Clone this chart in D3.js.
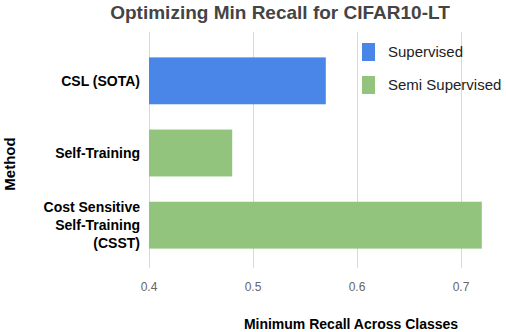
<!DOCTYPE html>
<html>
<head>
<meta charset="utf-8">
<script src="https://cdn.jsdelivr.net/npm/d3@7"></script>
<style>
  body { margin: 0; background: #fff; }
  text { font-family: "Liberation Sans", Arial, sans-serif; }
</style>
</head>
<body>
<div id="chart"></div>
<script>
// data
var methods = ["CSL (SOTA)", "Self-Training", "Cost Sensitive\nSelf-Training\n(CSST)"];
var minRecall = [0.57, 0.48, 0.72];
var groups = ["Supervised", "Semi Supervised", "Semi Supervised"];
var legendLabels = ["Supervised", "Semi Supervised"];
var xTicks = [0.4, 0.5, 0.6, 0.7];

var svgWidth = 506, svgHeight = 332;
var color = d3.scaleOrdinal().domain(legendLabels).range(["#4a86e8", "#93c47d"]);

var svg = d3.select("#chart")
    .append("svg")
    .attr("width", svgWidth)
    .attr("height", svgHeight);

var x = d3.scaleLinear()
    .domain([0.4, 0.7])
    .range([149, 461]);

var y = d3.scaleBand()
    .domain(methods)
    .range([35, 271])
    .paddingInner(0.35)
    .paddingOuter(0.31);

// gridlines
svg.append("g")
    .selectAll("line")
    .data(xTicks)
    .enter()
    .append("line")
    .attr("x1", d => x(d) + 0.5)
    .attr("x2", d => x(d) + 0.5)
    .attr("y1", 32)
    .attr("y2", 268)
    .attr("stroke", "#d9d9d9")
    .attr("stroke-width", 1);

// tick labels
svg.append("g")
    .selectAll("text")
    .data(xTicks)
    .enter()
    .append("text")
    .attr("x", d => x(d))
    .attr("y", 291)
    .attr("text-anchor", "middle")
    .attr("font-size", 12)
    .attr("fill", "#666")
    .text(d => d3.format(".1f")(d));

// bars
svg.append("g")
    .selectAll("rect")
    .data(methods)
    .enter()
    .append("rect")
    .attr("x", x(0.4))
    .attr("y", d => y(d))
    .attr("width", (d, i) => x(minRecall[i]) - x(0.4))
    .attr("height", y.bandwidth())
    .attr("fill", (d, i) => color(groups[i]));

// category labels
var labels = svg.append("g")
    .selectAll("text")
    .data(methods)
    .enter()
    .append("text")
    .attr("text-anchor", "end")
    .attr("font-size", 14)
    .attr("font-weight", "bold")
    .attr("fill", "#000");

labels.each(function (d) {
    var lines = d.split("\n");
    var cy = y(d) + y.bandwidth() / 2;
    var lh = 18;
    var t = d3.select(this);
    lines.forEach(function (ln, k) {
        t.append("tspan")
            .attr("x", 140)
            .attr("y", cy + (k - (lines.length - 1) / 2) * lh + 5)
            .text(ln);
    });
});

// legend
var legend = svg.append("g")
    .selectAll("g")
    .data(legendLabels)
    .enter()
    .append("g")
    .attr("transform", (d, i) => `translate(362, ${43 + i * 33})`);

legend.append("rect")
    .attr("width", 13)
    .attr("height", 18)
    .attr("fill", d => color(d));

legend.append("text")
    .attr("x", 26)
    .attr("y", 14)
    .attr("font-size", 15)
    .attr("fill", "#222")
    .text(d => d);

// title
svg.append("text")
    .attr("x", 280)
    .attr("y", 19)
    .attr("text-anchor", "middle")
    .attr("font-size", 19)
    .attr("font-weight", "bold")
    .attr("fill", "#444")
    .text("Optimizing Min Recall for CIFAR10-LT");

// axis titles
svg.append("text")
    .attr("x", 351)
    .attr("y", 329)
    .attr("text-anchor", "middle")
    .attr("font-size", 14)
    .attr("font-weight", "bold")
    .attr("fill", "#000")
    .text("Minimum Recall Across Classes");

svg.append("text")
    .attr("transform", "translate(15,164) rotate(-90)")
    .attr("text-anchor", "middle")
    .attr("font-size", 15)
    .attr("font-weight", "bold")
    .attr("fill", "#000")
    .text("Method");
</script>
</body>
</html>
